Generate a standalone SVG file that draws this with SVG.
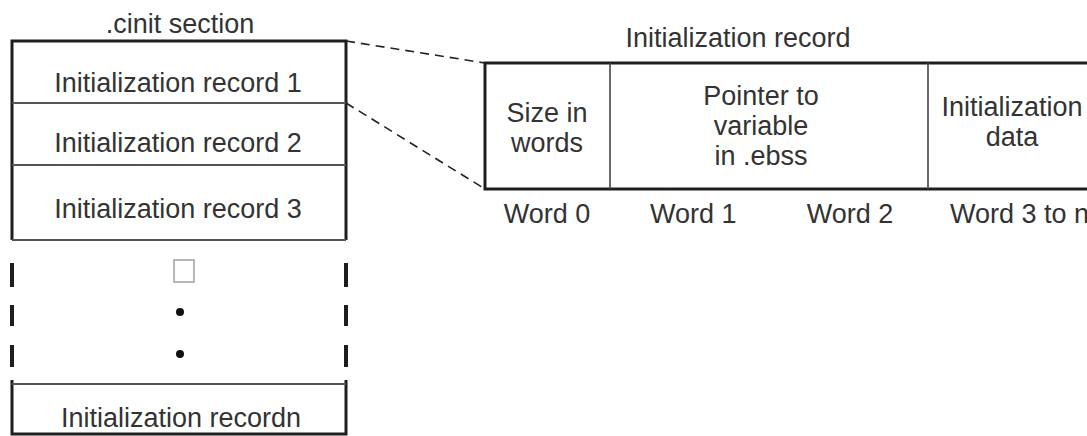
<svg xmlns="http://www.w3.org/2000/svg" width="1087" height="436" viewBox="0 0 1087 436">
<style>
text{font-family:"Liberation Sans",Arial,sans-serif;font-size:27px;fill:#333}
.c{text-anchor:middle}
.outer{fill:none;stroke:#1e1e1e;stroke-width:3}
.dash{fill:none;stroke:#1e1e1e;stroke-width:4}
.div{fill:none;stroke:#555;stroke-width:2}
.thin{fill:none;stroke:#444;stroke-width:1.6}
.conn{fill:none;stroke:#222;stroke-width:1.6;stroke-dasharray:9 6}
</style>
<rect width="1087" height="436" fill="#fff"/>
<g id="cinit-section">
<text class="c" x="180" y="33">.cinit section</text>
<path class="outer" d="M12 240 V41 H346 V240"/>
<path class="dash" d="M12 263 V287 M12 305 V326 M12 345 V367 M346 263 V287 M346 305 V326 M346 345 V367"/>
<path class="outer" d="M12 380 V434 H346 V380"/>
<line class="div" x1="12" y1="103" x2="346" y2="103"/>
<line class="div" x1="12" y1="165" x2="346" y2="165"/>
<line class="div" x1="12" y1="240" x2="346" y2="240"/>
<line class="div" x1="12" y1="384" x2="346" y2="384"/>
</g>
<g id="record1"><text class="c" x="178" y="92">Initialization record 1</text></g>
<g id="record2"><text class="c" x="178" y="152">Initialization record 2</text></g>
<g id="record3"><text class="c" x="178" y="218">Initialization record 3</text></g>
<g id="ellipsis">
<rect x="174" y="260" width="20" height="22" fill="none" stroke="#888" stroke-width="1.2"/>
<circle cx="180" cy="312" r="4" fill="#111"/>
<circle cx="180" cy="354" r="4" fill="#111"/>
</g>
<g id="recordn"><text class="c" x="181" y="427">Initialization recordn</text></g>
<g id="connectors">
<line class="conn" x1="346" y1="41" x2="485" y2="63"/>
<line class="conn" x1="346" y1="103" x2="485" y2="189"/>
</g>
<g id="init-record">
<text class="c" x="738" y="47">Initialization record</text>
<path class="outer" d="M1095 63 H485 V189 H1095"/>
<line class="thin" x1="610" y1="63" x2="610" y2="189"/>
<line class="thin" x1="928" y1="63" x2="928" y2="189"/>
</g>
<g id="size-cell">
<text class="c" x="547" y="122">Size in</text>
<text class="c" x="547" y="152">words</text>
</g>
<g id="pointer-cell">
<text class="c" x="761" y="105">Pointer to</text>
<text class="c" x="761" y="135">variable</text>
<text class="c" x="761" y="165">in .ebss</text>
</g>
<g id="data-cell">
<text class="c" x="1012" y="116">Initialization</text>
<text class="c" x="1012" y="146">data</text>
</g>
<g id="word-labels">
<text class="c" x="547" y="223">Word 0</text>
<text x="650" y="223">Word 1</text>
<text class="c" x="850" y="223">Word 2</text>
<text x="950" y="223">Word 3 to n</text>
</g>
</svg>
